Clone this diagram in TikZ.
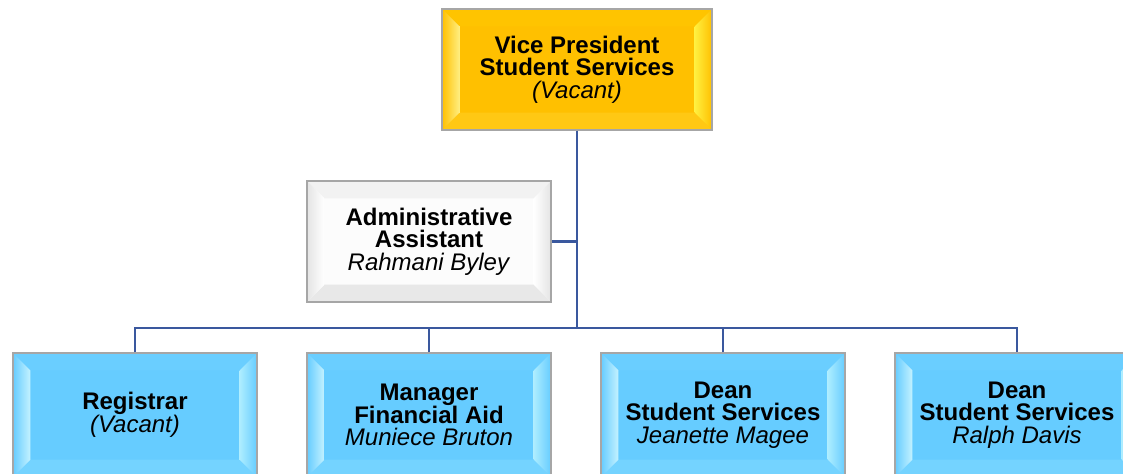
\documentclass[tikz,border=0pt]{standalone}
\usepackage{fontspec}
\setmainfont{Liberation Sans}
\usetikzlibrary{calc}
\definecolor{gold}{HTML}{FFC000}
\definecolor{goldtop}{HTML}{FFC400}
\definecolor{goldleft}{HTML}{FFEE80}
\definecolor{goldright}{HTML}{FFF040}
\definecolor{goldbot}{HTML}{FFC814}
\definecolor{sky}{HTML}{66CCFF}
\definecolor{skytop}{HTML}{6ACEFF}
\definecolor{skyleft}{HTML}{C4F2FF}
\definecolor{skyright}{HTML}{ADEDFF}
\definecolor{skybot}{HTML}{74D3FF}
\definecolor{pale}{HTML}{FCFCFC}
\definecolor{paletop}{HTML}{F2F2F2}
\definecolor{paleleft}{HTML}{FFFFFF}
\definecolor{paleright}{HTML}{FFFFFF}
\definecolor{palebot}{HTML}{E8E8E8}
\definecolor{paleedge}{HTML}{E4E4E4}
\definecolor{conncol}{RGB}{58,88,158}
\definecolor{edgecol}{HTML}{A6A6A6}
\def\bv{13pt}
\tikzset{
  bevel/.style n args={6}{
    fill=#1, draw=edgecol, line width=0.8pt,
    path picture={
      \fill[#2] (path picture bounding box.north west) -- (path picture bounding box.north east)
        -- ([shift={(-\bv,-\bv)}]path picture bounding box.north east)
        -- ([shift={(\bv,-\bv)}]path picture bounding box.north west) -- cycle;
      \fill[#5] (path picture bounding box.south west) -- (path picture bounding box.south east)
        -- ([shift={(-\bv,\bv)}]path picture bounding box.south east)
        -- ([shift={(\bv,\bv)}]path picture bounding box.south west) -- cycle;
      \shade[left color=#6, right color=#3] (path picture bounding box.north west) -- (path picture bounding box.south west)
        -- ([shift={(\bv,\bv)}]path picture bounding box.south west)
        -- ([shift={(\bv,-\bv)}]path picture bounding box.north west) -- cycle;
      \shade[left color=#4, right color=#6] (path picture bounding box.north east) -- (path picture bounding box.south east)
        -- ([shift={(-\bv,\bv)}]path picture bounding box.south east)
        -- ([shift={(-\bv,-\bv)}]path picture bounding box.north east) -- cycle;
    }},
  box/.style={rectangle, align=center, inner sep=0pt, text=black,
    font=\fontsize{18pt}{17pt}\selectfont, minimum height=90.75pt},
  goldbox/.style={box, bevel={gold}{goldtop}{goldleft}{goldright}{goldbot}{gold}, minimum width=202.5pt},
  palebox/.style={box, bevel={pale}{paletop}{paleleft}{paleright}{palebot}{paleedge}, minimum width=183pt},
  skybox/.style={box, bevel={sky}{skytop}{skyleft}{skyright}{skybot}{sky}, minimum width=183pt, minimum height=93pt},
  conn/.style={draw=conncol, line width=1.6pt}
}
\begin{document}
\begin{tikzpicture}[x=0.75pt, y=-0.75pt]
\useasboundingbox (0,0) rectangle (1123,474);
\coordinate (j) at (577,328);
\node[goldbox] (vp) at (577,69.5) {\textbf{Vice President}\\\textbf{Student Services}\\\textit{(Vacant)}};
\node[palebox] (aa) at (429,241.5) {\textbf{Administrative}\\\textbf{Assistant}\\\textit{Rahmani Byley}};
\node[skybox] (reg) at (135,415) {\textbf{Registrar}\\\textit{(Vacant)}};
\node[skybox] (mgr) at (429,415) {\textbf{Manager}\\\textbf{Financial Aid}\\\textit{Muniece Bruton}};
\node[skybox] (d1) at (723,415) {\textbf{Dean}\\\textbf{Student Services}\\\textit{Jeanette Magee}};
\node[skybox] (d2) at (1017,415) {\textbf{Dean}\\\textbf{Student Services}\\\textit{Ralph Davis}};
\draw[conn] (vp.south) -- (j);
\draw[conn] (vp.south |- aa.east) -- (aa.east);
\draw[conn] (reg.north) -- (reg.north |- j) -- (d2.north |- j) -- (d2.north);
\draw[conn] (mgr.north) -- (mgr.north |- j);
\draw[conn] (d1.north) -- (d1.north |- j);
\end{tikzpicture}
\end{document}
